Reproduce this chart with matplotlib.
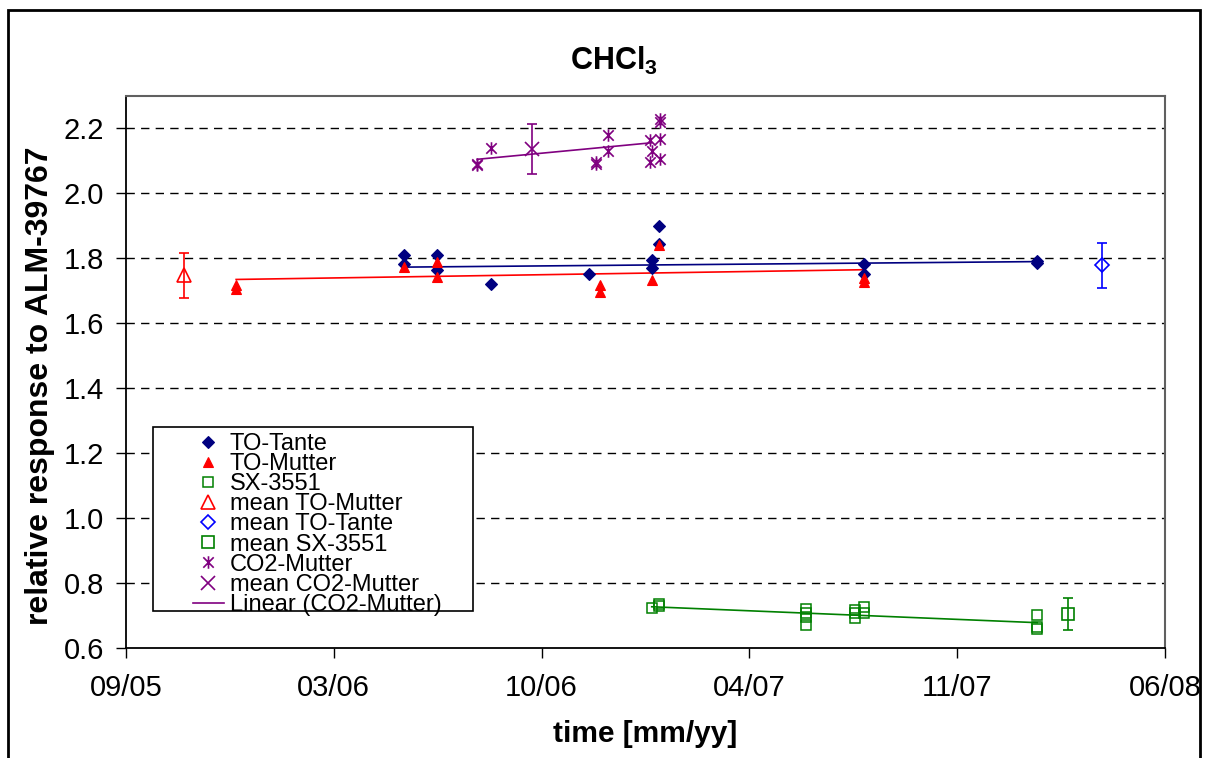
import numpy as np
import matplotlib
matplotlib.use("Agg")
import matplotlib.pyplot as plt
import matplotlib.dates as mdates
from matplotlib.path import Path
from matplotlib.patches import Rectangle

plt.rcParams['font.family'] = ['Liberation Sans', 'DejaVu Sans']
plt.rcParams['mathtext.fontset'] = 'custom'
plt.rcParams['mathtext.rm'] = 'Liberation Sans'
plt.rcParams['mathtext.bf'] = 'Liberation Sans:bold'

# single measurements
to_tante_dates = ['2006-05-31', '2006-05-31', '2006-07-01', '2006-07-01', '2006-08-22',
                  '2006-11-25', '2007-01-24', '2007-01-24', '2007-01-31', '2007-01-31',
                  '2007-08-16', '2007-08-16', '2008-01-30', '2008-01-30']
to_tante_vals = [1.809, 1.784, 1.809, 1.763, 1.722,
                 1.753, 1.794, 1.770, 1.899, 1.845,
                 1.782, 1.753, 1.791, 1.787]

to_mutter_dates = ['2005-12-20', '2005-12-20', '2006-05-31', '2006-07-01', '2006-07-01',
                   '2006-12-05', '2006-12-05', '2007-01-24', '2007-01-31', '2007-08-16',
                   '2007-08-16']
to_mutter_vals = [1.705, 1.718, 1.773, 1.789, 1.743,
                  1.696, 1.717, 1.732, 1.840, 1.727,
                  1.740]

sx_dates = ['2007-01-24', '2007-01-31', '2007-01-31', '2007-06-21', '2007-06-21',
            '2007-06-21', '2007-06-21', '2007-08-08', '2007-08-08', '2007-08-08',
            '2007-08-16', '2007-08-16', '2008-01-30', '2008-01-30', '2008-01-30']
sx_vals = [0.722, 0.734, 0.730, 0.720, 0.708,
           0.697, 0.672, 0.717, 0.707, 0.692,
           0.727, 0.707, 0.702, 0.666, 0.658]

co2_dates = ['2006-08-09', '2006-08-09', '2006-08-22', '2006-12-01', '2006-12-01',
             '2006-12-13', '2006-12-13', '2007-01-22', '2007-01-22', '2007-01-24',
             '2007-02-01', '2007-02-01', '2007-02-01', '2007-02-01']
co2_vals = [2.086, 2.092, 2.139, 2.097, 2.092,
            2.181, 2.132, 2.163, 2.097, 2.132,
            2.230, 2.221, 2.168, 2.105]

# means with standard deviation
mean_mutter = ('2005-10-31', 1.748, 0.070)
mean_tante = ('2008-04-01', 1.778, 0.070)
mean_sx = ('2008-02-29', 0.705, 0.050)
mean_co2 = ('2006-10-01', 2.137, 0.078)

# linear trends (start / end)
trend_mutter = (['2005-12-20', '2007-08-16'], [1.735, 1.765])
trend_tante = (['2006-05-31', '2008-01-30'], [1.773, 1.790])
trend_sx = (['2007-01-24', '2008-01-30'], [0.727, 0.678])
trend_co2 = (['2006-08-09', '2007-01-24'], [2.105, 2.156])

x_ticks = ['2005-09-05', '2006-03-24', '2006-10-10', '2007-04-28', '2007-11-14', '2008-06-01']
y_ticks = [0.6, 0.8, 1.0, 1.2, 1.4, 1.6, 1.8, 2.0, 2.2]

d = lambda s: np.array(s, dtype='datetime64[D]')

navy = '#000080'
red = '#FF0000'
green = '#008000'
blue = '#0000FF'
purple = '#800080'

star = Path([(-1, -1), (1, 1), (-1, 1), (1, -1), (0, -1.2), (0, 1.2)],
            [Path.MOVETO, Path.LINETO, Path.MOVETO, Path.LINETO, Path.MOVETO, Path.LINETO])

fig = plt.figure(figsize=(12.08, 7.58), dpi=100)
ax = fig.add_axes([126 / 1208, 1 - 648 / 758, 1039 / 1208, 552 / 758])

# trend lines
for (td, tv), c in [(trend_mutter, red), (trend_tante, navy), (trend_sx, green)]:
    ax.plot(d(td), tv, color=c, lw=1.2, zorder=3)

ax.plot(d(to_tante_dates), to_tante_vals, 'D', color=navy, ms=6, mew=0.8,
        ls='none', label='TO-Tante', zorder=4)
ax.plot(d(to_mutter_dates), to_mutter_vals, '^', color=red, ms=7.5, mew=0.8,
        ls='none', label='TO-Mutter', zorder=4)
ax.plot(d(sx_dates), sx_vals, 's', mfc='none', mec=green, ms=6.5, mew=1.1,
        ls='none', label='SX-3551', zorder=4)

# means
means = [(mean_mutter, '^', red, 10, 'mean TO-Mutter'),
         (mean_tante, 'D', blue, 7, 'mean TO-Tante'),
         (mean_sx, 's', green, 9, 'mean SX-3551')]
for (md, mv, me), mk, c, ms, lab in means:
    ax.errorbar(d([md]), [mv], yerr=[me], fmt='none', ecolor=c, elinewidth=1.2,
                capsize=3.4, capthick=1.2, zorder=4)
    ax.plot(d([md]), [mv], mk, mfc='none', mec=c, ms=ms, mew=1.2, ls='none',
            label=lab, zorder=4)

ax.plot(d(co2_dates), co2_vals, marker=star, mfc='none', mec=purple, ms=9, mew=1.2,
        ls='none', label='CO2-Mutter', zorder=4)
md, mv, me = mean_co2
ax.errorbar(d([md]), [mv], yerr=[me], fmt='none', ecolor=purple, elinewidth=1.2,
            capsize=3.4, capthick=1.2, zorder=4)
ax.plot(d([md]), [mv], 'x', color=purple, ms=9.5, mew=1.2, ls='none',
        label='mean CO2-Mutter', zorder=4)
ax.plot(d(trend_co2[0]), trend_co2[1], color=purple, lw=1.2, zorder=3,
        label='Linear (CO2-Mutter)')

# axes
ax.set_xlim(d('2005-09-05'), d('2008-06-01'))
ax.set_ylim(0.6, 2.3)
ax.set_xticks(d(x_ticks))
ax.xaxis.set_major_formatter(mdates.DateFormatter('%m/%y'))
ax.set_yticks(y_ticks)
ax.set_yticklabels([f'{v:.1f}' for v in y_ticks])
ax.tick_params(axis='both', direction='out', length=7, width=1, labelsize=21)
ax.tick_params(axis='x', pad=12)
ax.tick_params(axis='y', pad=9)

for v in y_ticks[1:]:
    ax.axhline(v, color='black', lw=1, dashes=(6, 4.5), zorder=1)

for s in ['left', 'bottom']:
    ax.spines[s].set_color('black')
    ax.spines[s].set_linewidth(1.3)
for s in ['top', 'right']:
    ax.spines[s].set_color('#606060')
    ax.spines[s].set_linewidth(1.5)

fig.text(614 / 1208, 1 - 70 / 758, r'CHCl$_\mathbf{3}$', fontsize=22, fontweight='bold',
         ha='center', va='baseline')
ax.set_xlabel('time [mm/yy]', fontsize=21.5, fontweight='bold', labelpad=13)
ax.set_ylabel('relative response to ALM-39767', fontsize=23, fontweight='bold')
ax.yaxis.set_label_coords(-0.068, 0.4746)

# legend box
frame = Rectangle(((153 - 126) / 1039, (648 - 611) / 552), 320 / 1039, 184 / 552,
                  transform=ax.transAxes, facecolor='white', edgecolor='black',
                  lw=1.2, zorder=5)
ax.add_patch(frame)
leg = ax.legend(loc='upper left', bbox_to_anchor=((193 - 126) / 1039, (648 - 433) / 552),
                frameon=False, fontsize=17, borderpad=0, borderaxespad=0,
                handlelength=1.3, handletextpad=0.26, labelspacing=-0.08)
leg.set_zorder(6)

# chart border
fig.patches.append(Rectangle((8 / 1208, -0.05), 1192 / 1208, 1.05 - 10 / 758,
                             transform=fig.transFigure, fill=False,
                             edgecolor='black', lw=2))

fig.savefig('out.png', dpi=100)
